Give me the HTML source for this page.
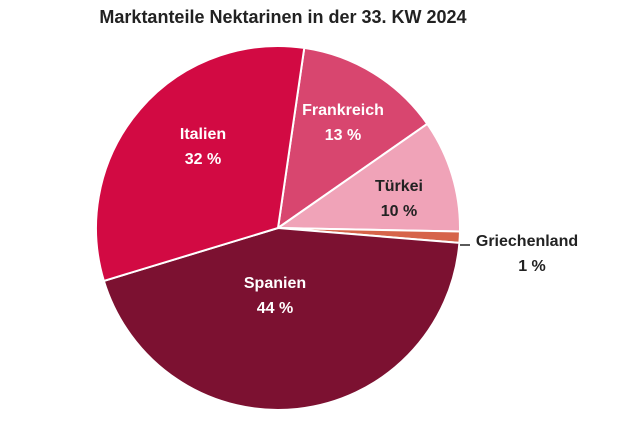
<!DOCTYPE html>
<html><head><meta charset="utf-8"><style>
body{margin:0;background:#fff;width:626px;height:417px;overflow:hidden;font-family:"Liberation Sans",sans-serif}
</style></head><body>
<svg id="s" width="626" height="417" xmlns="http://www.w3.org/2000/svg">
<text x="283" y="23" text-anchor="middle" font-size="18" font-weight="bold" fill="#222" font-family="Liberation Sans, sans-serif">Marktanteile Nektarinen in der 33. KW 2024</text>
<g id="pie"></g>
<g font-family="Liberation Sans, sans-serif" font-weight="bold" font-size="16" text-anchor="middle">
<text x="203" y="139" fill="#fff">Italien</text><text x="203" y="164" fill="#fff">32 %</text>
<text x="343" y="115" fill="#fff">Frankreich</text><text x="343" y="140" fill="#fff">13 %</text>
<text x="399" y="191" fill="#222">Türkei</text><text x="399" y="216" fill="#222">10 %</text>
<text x="275" y="288" fill="#fff">Spanien</text><text x="275" y="313" fill="#fff">44 %</text>
<text x="527" y="246" fill="#222">Griechenland</text><text x="532" y="271" fill="#222">1 %</text>
</g>
<line x1="460" y1="245" x2="470" y2="245" stroke="#222" stroke-width="1.5"/>
</svg>
<script>
var cx=278,cy=228,r=182,start=8.3;
var d=[[32,"#d20a43"],[13,"#d8466f"],[10,"#f0a3b8"],[1,"#d6644a"],[44,"#7c1131"]];
var order=[d[1],d[2],d[3],d[4],d[0]];
var a=start,g=document.getElementById("pie"),h="";
function pt(deg){var t=deg*Math.PI/180;return [cx+r*Math.sin(t),cy-r*Math.cos(t)];}
order.forEach(function(o){var a2=a+o[0]*3.6;var p1=pt(a),p2=pt(a2);
h+='<path d="M'+cx+','+cy+' L'+p1[0]+','+p1[1]+' A'+r+','+r+' 0 '+((a2-a)>180?1:0)+' 1 '+p2[0]+','+p2[1]+' Z" fill="'+o[1]+'" stroke="#fff" stroke-width="2" stroke-linejoin="round"/>';a=a2;});
g.innerHTML=h;
</script>
</body></html>
